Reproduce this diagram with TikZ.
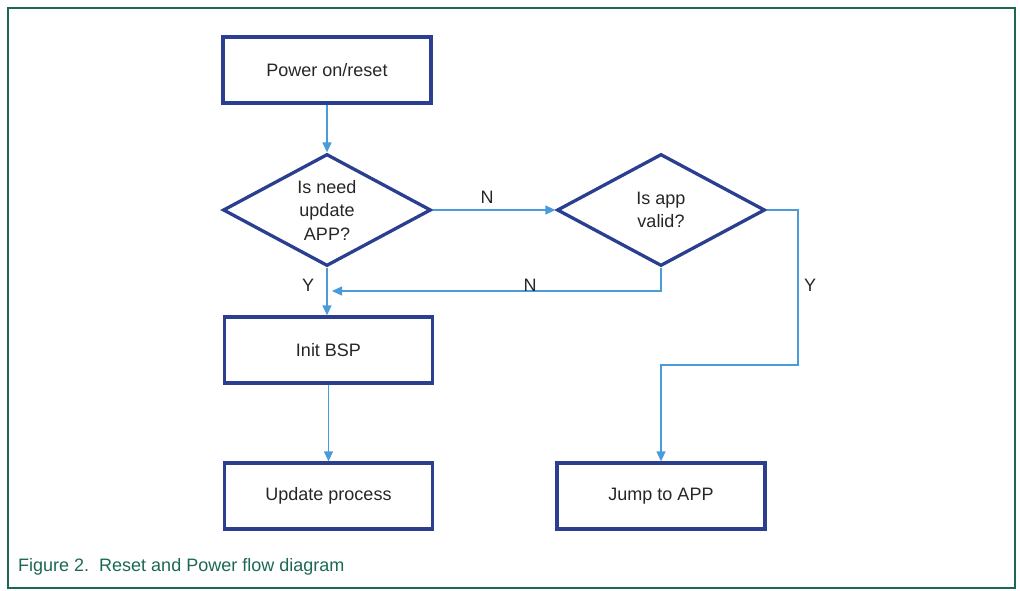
\documentclass[tikz,border=0pt]{standalone}
\usepackage{fontspec}
\setmainfont{Liberation Sans}
\usetikzlibrary{shapes.geometric,arrows.meta}
\definecolor{boxblue}{HTML}{2A3F8F}
\definecolor{linkblue}{HTML}{4A9BD9}
\definecolor{framegreen}{HTML}{1B6856}
\definecolor{txt}{HTML}{262626}
\begin{document}
\begin{tikzpicture}[x=1pt,y=-1pt,
  font=\fontsize{18}{23.5}\selectfont,
  box/.style={draw=boxblue,line width=3.3pt,minimum width=208pt,minimum height=66pt,inner sep=0pt,text=txt},
  dia/.style={diamond,draw=boxblue,line width=3.3pt,minimum width=208pt,minimum height=112pt,inner sep=0pt,aspect=1.84,align=center,text=txt},
  link/.style={draw=linkblue,line width=1.3pt,-{Triangle[length=10pt,width=9pt]}},
  lbl/.style={text=txt,inner sep=0pt}]
\useasboundingbox (0,0) rectangle (1020,591);
\draw[framegreen,line width=2pt] (8,8) rectangle (1015,588);
\node[anchor=base west,text=framegreen,inner sep=0pt] (cap) at (18,571) {Figure 2.\ \ Reset and Power flow diagram};

\node[box] (pwr) at (327,70) {Power on/reset};
\node[dia] (d1) at (327,210) {Is need\\update\\APP?};
\node[dia] (d2) at (661,210) {Is app\\valid?};
\node[box] (init) at (328.5,350) {Init BSP};
\node[box] (upd) at (328.5,496) {Update process};
\node[box] (jump) at (661,496) {Jump to APP};

\coordinate (m1) at (332,291);
\coordinate (yc) at (798,365);

\draw[link] (pwr.south) -- (d1.north);
\draw[link] (d1.east) -- (d2.west);
\draw[link] (d1.south) -- (d1.south |- init.north);
\draw[link] (d2.south) |- (m1);
\draw[link] (d2.east) -| (yc) -| (jump.north);
\draw[link] (init.south) -- (upd.north);

\node[lbl] (n1) at (487,197) {N};
\node[lbl] (n2) at (530,285) {N};
\node[lbl] (y1) at (308,285) {Y};
\node[lbl] (y2) at (810,285) {Y};
\end{tikzpicture}
\end{document}
